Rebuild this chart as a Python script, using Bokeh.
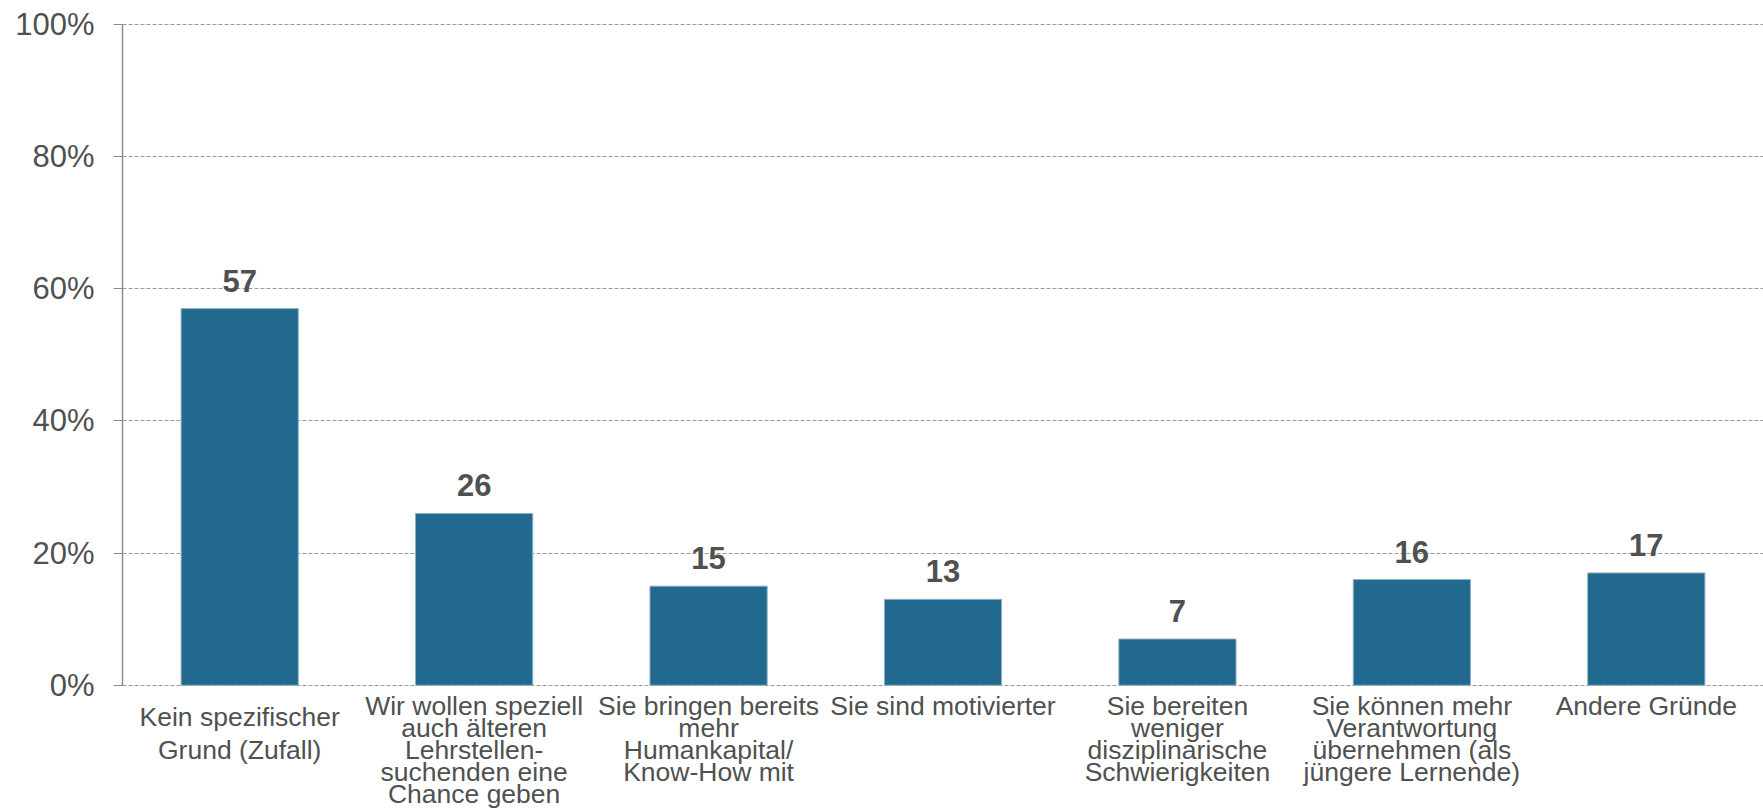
from bokeh.plotting import figure
from bokeh.models import FactorRange, Range1d, FixedTicker, ColumnDataSource
from bokeh.core.properties import value
from bokeh.embed import file_html
from bokeh.resources import INLINE

categories = [
    "Kein spezifischer\nGrund (Zufall)",
    "Wir wollen speziell\nauch älteren\nLehrstellen-\nsuchenden eine\nChance geben",
    "Sie bringen bereits\nmehr\nHumankapital/\nKnow-How mit",
    "Sie sind motivierter",
    "Sie bereiten\nweniger\ndisziplinarische\nSchwierigkeiten",
    "Sie können mehr\nVerantwortung\nübernehmen (als\njüngere Lernende)",
    "Andere Gründe",
]
values = [57, 26, 15, 13, 7, 16, 17]
y_ticks = [0, 20, 40, 60, 80, 100]
y_tick_labels = {0: "0%", 20: "20%", 40: "40%", 60: "60%", 80: "80%", 100: "100%"}

FONT = "Liberation Sans"
TXT = "#4f5151"
GRID = "#9a9a9a"

p = figure(
    width=1763, height=809,
    x_range=FactorRange(factors=categories, range_padding=0),
    y_range=Range1d(-18.8, 100.3),
    output_backend="svg", toolbar_location=None,
    min_border_left=122, min_border_right=0, min_border_top=22, min_border_bottom=0,
)
p.outline_line_color = None
p.background_fill_color = "white"
p.border_fill_color = "white"

src = ColumnDataSource(dict(cat=categories, val=values, lab=[str(v) for v in values]))

p.vbar(x="cat", top="val", bottom=0, width=0.5, source=src,
       fill_color="#22698f", line_color="#8fb1c6", line_width=1)

p.text(x="cat", y="val", text="lab", source=src,
       text_font=value(FONT), text_font_size="31px", text_font_style="bold",
       text_color=TXT, text_align="center", text_baseline="alphabetic", y_offset=-28)

src_first = ColumnDataSource(dict(cat=categories[:1], lab=categories[:1], y=[0]))
src_rest = ColumnDataSource(dict(cat=categories[1:], lab=categories[1:], y=[0] * (len(categories) - 1)))

p.text(x="cat", y="y", text="lab", source=src_first,
       text_font=value(FONT), text_font_size="26.5px", text_color=TXT,
       text_align="center", text_baseline="top", y_offset=17, text_line_height=1.09)
p.text(x="cat", y="y", text="lab", source=src_rest,
       text_font=value(FONT), text_font_size="26.5px", text_color=TXT,
       text_align="center", text_baseline="top", y_offset=6, text_line_height=0.73)

p.xaxis.visible = False
p.xgrid.visible = False

yax = p.yaxis[0]
yax.ticker = FixedTicker(ticks=y_ticks)
yax.major_label_overrides = y_tick_labels
yax.bounds = (0, 100)
yax.axis_line_color = "#8c8c8c"
yax.axis_line_width = 1.5
yax.major_tick_line_color = "#8c8c8c"
yax.major_tick_in = 0
yax.major_tick_out = 9
yax.minor_tick_line_color = None
yax.major_label_standoff = 19
yax.major_label_text_font = FONT
yax.major_label_text_font_size = "31px"
yax.major_label_text_color = TXT

p.ygrid.grid_line_color = GRID
p.ygrid.grid_line_dash = "4 2"
p.ygrid.grid_line_width = 1

open("out.html", "w").write(file_html(p, INLINE))
